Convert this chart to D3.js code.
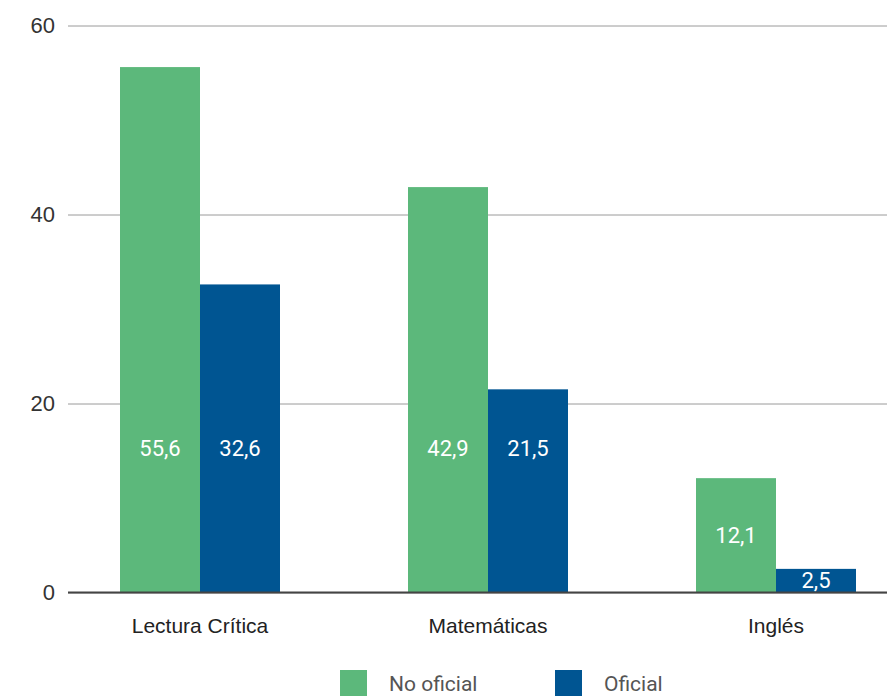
<!DOCTYPE html>
<html><head><meta charset="utf-8">
<script src="https://cdn.jsdelivr.net/npm/d3@7"></script>
<style>
html,body{margin:0;padding:0;background:#fff;}
svg{display:block;font-family:Roboto, "DejaVu Sans", sans-serif;}
</style></head>
<body>
<svg id="chart" width="887" height="696"></svg>
<script>
const categories = ["Lectura Crítica", "Matemáticas", "Inglés"];
const seriesNames = ["No oficial", "Oficial"];
const noOficial = [55.6, 42.9, 12.1];
const oficial = [32.6, 21.5, 2.5];
const yTicks = [0, 20, 40, 60];
const colors = ["#5cb87b", "#005592"];

const svg = d3.select("#chart");
const plotLeft = 68, plotRight = 887;

const y = d3.scaleLinear().domain([0, 60]).range([592.5, 25.5]);
const x = d3.scaleBand().domain(categories).range([56, 920]).padding(0);
const barW = 80;
const xs = d3.scaleBand().domain(seriesNames).range([0, barW * 2]);

// gridlines
const yAxis = d3.axisLeft(y).tickValues(yTicks).tickSize(-(plotRight - plotLeft)).tickFormat(d3.format("d"));
const gy = svg.append("g").attr("transform", `translate(${plotLeft},0)`).call(yAxis);
gy.select(".domain").remove();
gy.selectAll(".tick line").attr("stroke", "#9a9a9a").attr("stroke-width", 1);
gy.selectAll(".tick text").attr("fill", "#333").style("font-size", "22px").attr("x", -13);

const data = categories.map((c, i) => ({cat: c, vals: [noOficial[i], oficial[i]]}));

const groups = svg.append("g").selectAll("g").data(data).join("g")
  .attr("transform", d => `translate(${x(d.cat) + x.bandwidth() / 2 - barW},0)`);

groups.selectAll("rect").data(d => d.vals.map((v, j) => ({v, s: seriesNames[j], j})))
  .join("rect")
  .attr("x", d => xs(d.s))
  .attr("width", xs.bandwidth())
  .attr("y", d => y(d.v))
  .attr("height", d => y(0) - y(d.v))
  .attr("fill", d => colors[d.j]);

const fmt = v => d3.format(".1f")(v).replace(".", ",");
groups.selectAll("text.val").data(d => d.vals.map((v, j) => ({v, s: seriesNames[j]})))
  .join("text").attr("class", "val")
  .attr("x", d => xs(d.s) + xs.bandwidth() / 2)
  .attr("y", d => d.v >= 20 ? y(15.3) : (y(d.v) + y(0)) / 2)
  .attr("dy", "0.35em")
  .attr("text-anchor", "middle")
  .attr("fill", "#fff")
  .style("font-size", "22px")
  .text(d => fmt(d.v));

// zero line
svg.append("line").attr("x1", plotLeft).attr("x2", plotRight)
  .attr("y1", y(0)).attr("y2", y(0)).attr("stroke", "#444").attr("stroke-width", 2);

// x axis labels
const xAxis = d3.axisBottom(x).tickSize(0).tickPadding(26);
const gx = svg.append("g").attr("transform", `translate(0,${y(0)})`).call(xAxis);
gx.select(".domain").remove();
gx.selectAll(".tick text").attr("fill", "#222").style("font-size", "21px");

// legend
const legendX = [340, 555];
const leg = svg.append("g").selectAll("g").data(seriesNames).join("g")
  .attr("transform", (d, i) => `translate(${legendX[i]},670)`);
leg.append("rect").attr("width", 27).attr("height", 27).attr("fill", (d, i) => colors[i]);
leg.append("text").attr("x", 49).attr("y", 14).attr("dy", "0.35em")
  .attr("fill", "#555").style("font-size", "21px").text(d => d);
</script>
</body></html>
